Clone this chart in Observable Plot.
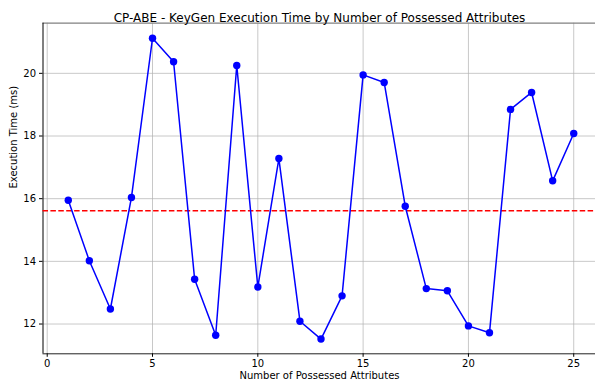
<!DOCTYPE html>
<html><head><meta charset="utf-8">
<script src="https://cdn.jsdelivr.net/npm/d3@7"></script>
<script src="https://cdn.jsdelivr.net/npm/@observablehq/plot@0.6"></script>
<style>html,body{margin:0;background:#fff;overflow:hidden;} #chart svg{font-family:"DejaVu Sans",sans-serif;}</style>
</head><body><div id="chart"></div>
<script>
const attributes = [1,2,3,4,5,6,7,8,9,10,11,12,13,14,15,16,17,18,19,20,21,22,23,24,25];
const times = [15.95,14.02,12.48,16.04,21.12,20.37,13.43,11.64,20.25,13.18,17.28,12.09,11.52,12.90,19.95,19.71,15.76,13.13,13.06,11.94,11.72,18.85,19.39,16.57,18.08];
const xTicks = [0,5,10,15,20,25];
const yTicks = [12,14,16,18,20];
const titleText = "CP-ABE - KeyGen Execution Time by Number of Possessed Attributes";
const xLabel = "Number of Possessed Attributes";
const yLabel = "Execution Time (ms)";

const data = attributes.map((a, i) => ({a, t: times[i]}));
const meanTime = d3.mean(times);
const xDom = [-0.2, 26.2];
const yDom = [11.05, 21.6];

const chart = Plot.plot({
  width: 595,
  height: 387,
  marginLeft: 42.5,
  marginRight: -3.5,
  marginTop: 22.7,
  marginBottom: 33.7,
  x: {domain: xDom},
  y: {domain: yDom},
  style: {fontSize: "10px", color: "#000", background: "#fff"},
  marks: [
    Plot.gridX(xTicks, {stroke: "#b0b0b0", strokeOpacity: 0.7, strokeWidth: 1}),
    Plot.gridY(yTicks, {stroke: "#b0b0b0", strokeOpacity: 0.7, strokeWidth: 1}),
    Plot.ruleY([yDom[1]], {stroke: "#808080", strokeWidth: 1.3}),
    Plot.ruleX([xDom[0]], {stroke: "#000", strokeWidth: 1}),
    Plot.ruleY([yDom[0]], {stroke: "#222", strokeWidth: 1}),
    Plot.axisX(xTicks, {tickSize: 3.5, tickPadding: 2.5, label: null, fontSize: 10, stroke: "#000"}),
    Plot.axisY(yTicks, {tickSize: 3.5, tickPadding: 3.5, label: null, fontSize: 10, stroke: "#000"}),
    Plot.ruleY([meanTime], {stroke: "red", strokeWidth: 1.5, strokeDasharray: "5.5,2.4"}),
    Plot.line(data, {x: "a", y: "t", stroke: "blue", strokeWidth: 1.5}),
    Plot.dot(data, {x: "a", y: "t", r: 3.7, fill: "blue", stroke: "none"}),
    Plot.text([titleText], {frameAnchor: "top", dx: -1.5, dy: -9.5, fontSize: 12, fill: "#000"}),
    Plot.text([xLabel], {frameAnchor: "bottom", dx: -1.5, dy: 24.7, fontSize: 10, fill: "#000"}),
    Plot.text([yLabel], {frameAnchor: "left", dx: -29.5, rotate: -90, fontSize: 10, fill: "#000"})
  ]
});
document.getElementById("chart").append(chart);
</script>
</body></html>
